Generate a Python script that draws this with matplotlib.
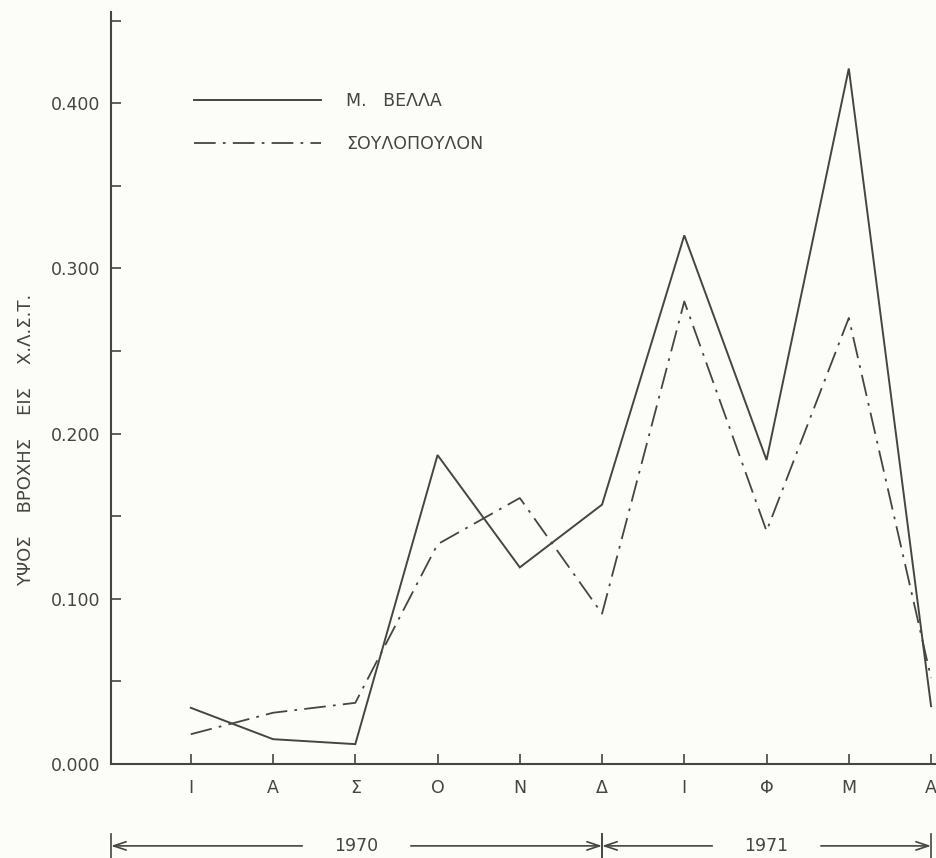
import matplotlib
matplotlib.use("Agg")
import matplotlib.pyplot as plt
import matplotlib.transforms as mtransforms

# μήνες Ιούλ. 1970 - Απρ. 1971
months = ["Ι", "Α", "Σ", "Ο", "Ν", "Δ", "Ι", "Φ", "Μ", "Α"]
bella = [0.034, 0.015, 0.012, 0.187, 0.119, 0.157, 0.320, 0.184, 0.421, 0.035]
soulopoulon = [0.018, 0.031, 0.037, 0.133, 0.161, 0.091, 0.280, 0.141, 0.270, 0.052]
series_names = ["Μ.   ΒΕΛΛΑ", "ΣΟΥΛΟΠΟΥΛΟΝ"]
y_ticks = [0.0, 0.1, 0.2, 0.3, 0.4]
y_ticklabels = ["0.000", "0.100", "0.200", "0.300", "0.400"]
y_minor = [0.05, 0.15, 0.25, 0.35, 0.45]
years = ["1970", "1971"]
year_spans = [(-0.97, 5.0), (5.0, 9.0)]
ylabel = "ΥΨΟΣ    ΒΡΟΧΗΣ    ΕΙΣ    Χ.Λ.Σ.Τ."

INK = "#45463e"
BG = "#fcfcf9"

plt.rcParams["font.family"] = ["DejaVu Sans"]

fig = plt.figure(figsize=(9.36, 8.58), dpi=100, facecolor=BG)
ax = fig.add_axes([0.1186, 0.1096, 0.8814, 0.876])
ax.set_facecolor(BG)

x = list(range(len(months)))
ax.plot(x, bella, color=INK, lw=1.4, label=series_names[0], solid_joinstyle="miter")
ax.plot(x, soulopoulon, color=INK, lw=1.3, linestyle=(0, (12, 4, 1.5, 4)),
        label=series_names[1])

ax.set_xlim(-0.97, 9.06)
ax.set_ylim(0, 0.455)

for side in ("top", "right"):
    ax.spines[side].set_visible(False)
for side in ("left", "bottom"):
    ax.spines[side].set_linewidth(1.5)
    ax.spines[side].set_color(INK)

ax.set_xticks(x)
ax.set_xticklabels(months)
ax.set_yticks(y_ticks)
ax.set_yticklabels(y_ticklabels)
ax.set_yticks(y_minor, minor=True)
ax.tick_params(axis="both", which="both", direction="in", length=7.5, width=1.2,
               color=INK, labelcolor=INK, labelsize=12.5)
ax.tick_params(axis="y", pad=8)
ax.tick_params(axis="x", pad=11)

ax.legend(loc="upper left", bbox_to_anchor=(0.1006, 0.894), frameon=False,
          borderpad=0, borderaxespad=0, handlelength=7.3, handletextpad=1.45,
          labelspacing=1.45, fontsize=12.5, labelcolor=INK)

fig.text(26 / 936, 1 - 440 / 858, ylabel, rotation=90, ha="center", va="center",
         color=INK, fontsize=13)

# χρονολογικά βέλη κάτω από τον άξονα
trans = mtransforms.blended_transform_factory(ax.transData, ax.transAxes)
y_arr = -0.109
gap = 0.66
for yr, (x0, x1) in zip(years, year_spans):
    mid = (x0 + x1) / 2
    ax.text(mid, y_arr, yr, transform=trans, ha="center", va="center",
            color=INK, fontsize=12.5, clip_on=False)
    for end, start in ((x0, mid - gap), (x1, mid + gap)):
        ax.annotate("", xy=(end, y_arr), xytext=(start, y_arr),
                    xycoords=trans, textcoords=trans, annotation_clip=False,
                    arrowprops=dict(arrowstyle="->,head_length=0.9,head_width=0.3",
                                    color=INK, lw=1.2, shrinkA=0, shrinkB=0))
    for end in (x0, x1):
        ax.plot([end, end], [y_arr - 0.016, y_arr + 0.016], transform=trans,
                color=INK, lw=1.2, clip_on=False)

fig.savefig("out.png", dpi=100, facecolor=BG)
